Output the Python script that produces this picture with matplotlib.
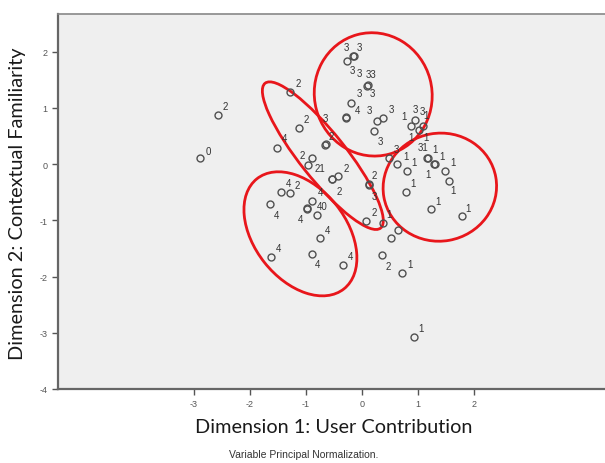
import matplotlib.pyplot as plt
from matplotlib.patches import Ellipse

plt.rcParams['axes.unicode_minus'] = False

# Object points (dimension 1, dimension 2); repeated entries overlap in the plot
x_vals = [-0.27, -0.16, -0.15, 0.09, 0.10, -0.19, -0.29, -0.28, 0.26, 0.38, 0.22,
          0.95, 0.88, 1.01, 1.09,
          -2.57, -1.28, -1.13, -1.51, -0.66, -0.65, -0.89, -0.96, -0.54, -0.53,
          -0.43, 0.12, 0.13, 0.08, 0.37, 0.48,
          0.63, 0.80, 1.16, 1.17, 1.29, 1.30, 1.49, 1.56, 0.79, 1.24, 1.78, 0.92,
          0.64, 0.51, 0.36, 0.71, -2.89,
          -1.44, -1.29, -1.64, -0.89, -0.99, -0.98, -0.80, -0.75, -1.62, -0.90, -0.34]
y_vals = [1.83, 1.92, 1.93, 1.39, 1.40, 1.09, 0.82, 0.83, 0.77, 0.82, 0.59,
          0.79, 0.68, 0.61, 0.68,
          0.88, 1.29, 0.64, 0.29, 0.34, 0.35, 0.10, -0.02, -0.27, -0.26,
          -0.21, -0.37, -0.36, -1.01, -1.05, 0.10,
          0.01, -0.12, 0.10, 0.11, 0.00, 0.01, -0.12, -0.30, -0.49, -0.80, -0.92, -3.07,
          -1.17, -1.32, -1.62, -1.93, 0.10,
          -0.50, -0.52, -0.71, -0.65, -0.79, -0.78, -0.90, -1.32, -1.66, -1.60, -1.79]

# Category labels and where they sit
label_text = ['0', '2', '2', '2', '4', '3', '2', '2', '21', '2', '2', '4',
              '2', '3', '2', '1', '2', '1', '1',
              '3', '3', '3', '3', '33', '3', '3', '4', '3', '3', '3',
              '1', '3', '3', '1', '1', '1', '3',
              '31', '1', '1', '1', '1', '1', '1', '1', '1', '1', '1',
              '4', '2', '4', '40', '4', '4', '4', '4', '4']
label_x = [-2.75, -2.44, -1.13, -0.99, -1.38, -0.65, -0.55, -1.07, -0.75, -0.29, -0.41, -0.75,
           0.22, 0.22, 0.21, 0.48, 0.46, 0.85, 1.06,
           -0.28, -0.04, -0.18, -0.04, 0.16, -0.04, 0.19, -0.08, 0.13, 0.53, 0.33,
           0.75, 0.95, 1.07, 1.15, 0.88, 1.15, 0.62,
           1.09, 1.31, 1.43, 1.62, 0.78, 0.93, 1.18, 1.63, 0.91, 1.35, 1.90,
           -1.32, -1.15, -1.53, -0.71, -1.10, -0.61, -1.49, -0.80, -0.20]
label_y = [0.24, 1.03, 1.44, 0.80, 0.46, 0.82, 0.50, 0.16, -0.07, -0.07, -0.47, -0.50,
           -0.20, -0.56, -0.86, -0.89, -1.81, -1.78, -2.92,
           2.09, 2.09, 1.68, 1.62, 1.60, 1.26, 1.26, 0.96, 0.96, 0.98, 0.41,
           0.86, 0.98, 0.94, 0.87, 0.48, 0.48, 0.27,
           0.30, 0.27, 0.15, 0.03, 0.15, 0.03, -0.17, -0.46, -0.34, -0.65, -0.78,
           -0.34, -0.37, -0.91, -0.75, -0.98, -1.17, -1.50, -1.78, -1.63]

# Hand-drawn cluster ellipses: centre x, centre y, width, height, angle
ell_cx = [0.20, 1.39, -1.10, -0.70]
ell_cy = [1.24, -0.41, -1.24, 0.15]
ell_w = [2.10, 2.03, 1.64, 3.30]
ell_h = [2.20, 1.92, 2.50, 0.82]
ell_ang = [15, 10, 38.5, -51.3]

x_ticks = [-3, -2, -1, 0, 1, 2]
y_ticks = [-4, -3, -2, -1, 0, 1, 2]

fig = plt.figure(figsize=(6.05, 4.64), dpi=100)
ax = fig.add_axes([58 / 605, 74 / 464, 547 / 605, 375 / 464])
ax.set_facecolor('#efefef')

ax.plot(x_vals, y_vals, linestyle='none', marker='o', markersize=5,
        markerfacecolor='none', markeredgecolor='#505050', markeredgewidth=1.0)

for t, lx, ly in zip(label_text, label_x, label_y):
    ax.text(lx, ly, t, fontsize=7, color='#333333', family='Liberation Sans',
            ha='center', va='center')

for cx, cy, w, h, a in zip(ell_cx, ell_cy, ell_w, ell_h, ell_ang):
    ax.add_patch(Ellipse((cx, cy), w, h, angle=a, fill=False,
                         edgecolor='#e8161b', linewidth=2.0))

ax.set_xlim(-5.43, 4.34)
ax.set_ylim(-4, 2.67)
ax.set_xticks(x_ticks)
ax.set_yticks(y_ticks)
ax.tick_params(labelsize=6.5, labelcolor='#555555', color='#555555',
               length=4, width=1, direction='out')
for lab in ax.get_xticklabels() + ax.get_yticklabels():
    lab.set_family('Liberation Sans')

for side in ['left', 'bottom']:
    ax.spines[side].set_color('#666666')
    ax.spines[side].set_linewidth(1.6)
ax.spines['top'].set_color('#888888')
ax.spines['top'].set_linewidth(1.2)
ax.spines['right'].set_visible(False)

fig.text(334 / 605, 1 - 428 / 464, 'Dimension 1: User Contribution',
         fontsize=14.3, family='Lato', ha='center', va='center', color='#1a1a1a')
fig.text(18 / 605, 1 - 204 / 464, 'Dimension 2: Contextual Familiarity',
         fontsize=14.3, family='Lato', ha='center', va='center', rotation=90,
         color='#1a1a1a')
fig.text(304 / 605, 1 - 455 / 464, 'Variable Principal Normalization.',
         fontsize=7.5, family='Liberation Sans', ha='center', va='center',
         color='#333333')

fig.savefig('out.png', dpi=100)
